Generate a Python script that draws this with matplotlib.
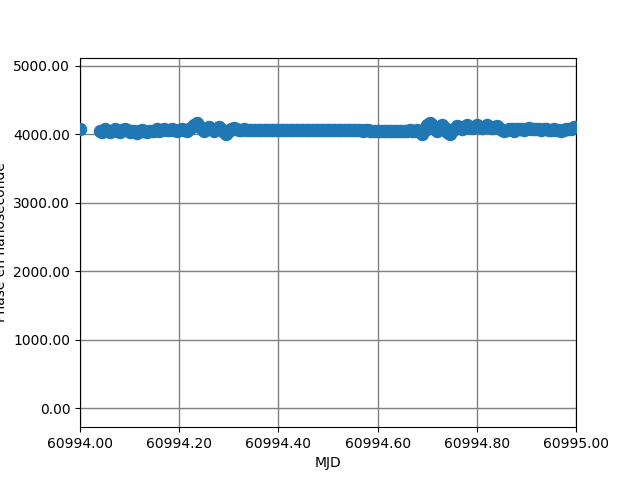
import numpy as np
import matplotlib
matplotlib.use("Agg")
import matplotlib.pyplot as plt
from matplotlib.ticker import FormatStrFormatter

# MJD sampling: one isolated point at the start, then every 0.005 day
first_mjd = 60994.0
first_phase = 4070
mjd = np.round(np.arange(60994.040, 60995.0001, 0.005), 3)

# phase in nanoseconds
phase = [
    4050, 4030, 4070, 4050, 4030, 4050, 4070, 4050, 4030, 4060,
    4080, 4060, 4030, 4050, 4040, 4020, 4040, 4060, 4050, 4030,
    4050, 4040, 4050, 4070, 4050, 4060, 4080, 4060, 4060, 4080,
    4060, 4050, 4060, 4070, 4060, 4050, 4070, 4100, 4140, 4160,
    4120, 4070, 4040, 4070, 4100, 4070, 4050, 4080, 4100, 4070,
    4030, 4010, 4040, 4070, 4090, 4070, 4060, 4060, 4070, 4065,
    4060, 4060, 4065, 4065, 4065, 4060, 4060, 4065, 4065, 4065,
    4065, 4065, 4065, 4065, 4065, 4065, 4065, 4065, 4065, 4065,
    4065, 4065, 4065, 4065, 4065, 4065, 4065, 4065, 4065, 4065,
    4065, 4065, 4065, 4060, 4060, 4060, 4065, 4065, 4060, 4060,
    4060, 4055, 4060, 4060, 4055, 4055, 4050, 4055, 4060, 4050,
    4045, 4045, 4040, 4045, 4045, 4040, 4045, 4050, 4045, 4040,
    4050, 4045, 4040, 4050, 4045, 4055, 4040, 4045, 4055, 4040,
    4010, 4060, 4130, 4160, 4130, 4080, 4040, 4090, 4130, 4090,
    4030, 4000, 4040, 4080, 4120, 4100, 4080, 4100, 4140, 4110,
    4090, 4110, 4130, 4100, 4090, 4110, 4130, 4100, 4090, 4110,
    4120, 4090, 4060, 4040, 4060, 4080, 4070, 4050, 4070, 4080,
    4070, 4060, 4080, 4090, 4080, 4070, 4080, 4070, 4060, 4080,
    4070, 4055, 4065, 4070, 4065, 4055, 4050, 4060, 4070, 4070,
    4080, 4100, 4110,
]

x = np.concatenate([[first_mjd], mjd])
y = np.concatenate([[first_phase], phase])

fig, ax = plt.subplots(figsize=(6.4, 4.8), dpi=100)
ax.scatter(x, y, s=75, color="#1f77b4", zorder=3)
ax.set_xlim(60994.0, 60995.0)
ax.set_ylim(-273, 5117)
ax.set_xticks(np.arange(60994.0, 60995.01, 0.2))
ax.set_yticks(np.arange(0, 5001, 1000))
ax.xaxis.set_major_formatter(FormatStrFormatter("%.2f"))
ax.yaxis.set_major_formatter(FormatStrFormatter("%.2f"))
ax.grid(True, color="gray", linewidth=1)
ax.set_xlabel("MJD")
ax.set_ylabel("Phase en nanoseconde")

plt.savefig("out.png")
